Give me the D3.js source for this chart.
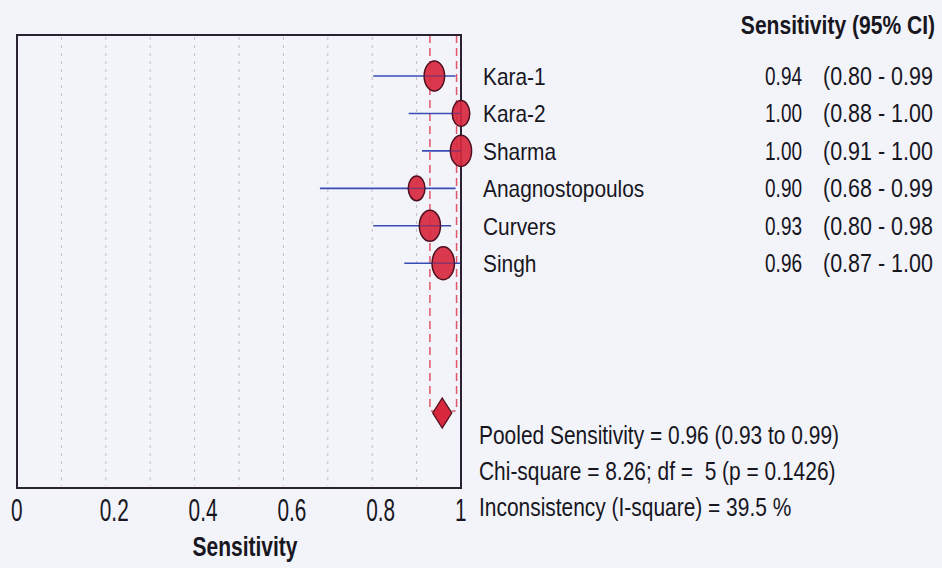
<!DOCTYPE html>
<html>
<head>
<meta charset="utf-8">
<script src="https://cdn.jsdelivr.net/npm/d3@7/dist/d3.min.js"></script>
<style>
  html, body { margin: 0; padding: 0; background: #f2f4fa; }
  svg { display: block; }
  text { font-family: "Liberation Sans", Arial, sans-serif; fill: #18161e; white-space: pre; }
</style>
</head>
<body>
<svg id="chart" width="942" height="568"></svg>
<script>
// ---- data ----
const studies   = ["Kara-1", "Kara-2", "Sharma", "Anagnostopoulos", "Curvers", "Singh"];
const sens      = [0.94, 1.00, 1.00, 0.90, 0.93, 0.96];
const ciLow     = [0.80, 0.88, 0.91, 0.68, 0.80, 0.87];
const ciHigh    = [0.99, 1.00, 1.00, 0.99, 0.98, 1.00];
const weights   = [15, 11, 16, 10, 16, 18];
const pooled    = { est: 0.96, lo: 0.93, hi: 0.99 };
const xTicks    = [0, 0.2, 0.4, 0.6, 0.8, 1];
const gridTicks = [0.1, 0.2, 0.3, 0.4, 0.5, 0.6, 0.7, 0.8, 0.9];
const statLines = [
  "Pooled Sensitivity = 0.96 (0.93 to 0.99)",
  "Chi-square = 8.26; df =  5 (p = 0.1426)",
  "Inconsistency (I-square) = 39.5 %"
];
const header = "Sensitivity (95% CI)";
const xTitle = "Sensitivity";

// ---- layout ----
const svg = d3.select("#chart");
const box = { left: 17, right: 461, top: 35, bottom: 488 };
const x = d3.scaleLinear().domain([0, 1]).range([box.left, box.right]);
const y = d3.scaleLinear().domain([0, 9]).range([76, 413]);
const ry = d3.scaleSqrt().domain([0, 18]).range([0, 16.5]);
const pooledRow = 9;

// gridlines
svg.append("g").selectAll("line").data(gridTicks).join("line")
  .attr("x1", d => x(d)).attr("x2", d => x(d))
  .attr("y1", box.top + 2).attr("y2", box.bottom - 2)
  .attr("stroke", "#c6bccb").attr("stroke-width", 1)
  .attr("stroke-dasharray", "3,5");

// pooled CI dashed bracket
const bracketY = y(pooledRow) - 2;
svg.append("path")
  .attr("d", `M${x(pooled.lo)},${box.top}V${bracketY}h5 M${x(pooled.hi)},${box.top}V${bracketY}h-5`)
  .attr("fill", "none").attr("stroke", "#e0566a").attr("stroke-width", 1.5)
  .attr("stroke-dasharray", "8,5");

// box
svg.append("rect")
  .attr("x", box.left).attr("y", box.top)
  .attr("width", box.right - box.left).attr("height", box.bottom - box.top)
  .attr("fill", "none").attr("stroke", "#2a2232").attr("stroke-width", 2);

// CI lines
const rows = studies.map((s, i) => ({ s, i, v: sens[i], lo: ciLow[i], hi: ciHigh[i], w: weights[i] }));
svg.append("g").selectAll("line").data(rows).join("line")
  .attr("x1", d => x(d.lo) + 1).attr("x2", d => x(d.hi) - 1)
  .attr("y1", d => y(d.i)).attr("y2", d => y(d.i))
  .attr("stroke", "#3b4bb4").attr("stroke-width", 1.6);

// points (ellipses)
const rxr = 0.68;
svg.append("g").selectAll("ellipse").data(rows).join("ellipse")
  .attr("cx", d => x(d.v)).attr("cy", d => y(d.i))
  .attr("rx", d => ry(d.w) * rxr).attr("ry", d => ry(d.w))
  .attr("fill", "#d8283e").attr("stroke", "#4e1020").attr("stroke-width", 1.5)
  .attr("fill-opacity", 0.92);
// CI line visible through the marker
svg.append("g").selectAll("line").data(rows).join("line")
  .attr("x1", d => Math.max(x(d.lo), x(d.v) - ry(d.w) * rxr)).attr("x2", d => Math.min(x(d.hi), x(d.v) + ry(d.w) * rxr))
  .attr("y1", d => y(d.i)).attr("y2", d => y(d.i))
  .attr("stroke", "#4a3c8c").attr("stroke-width", 1.2).attr("opacity", 0.6);

// pooled diamond
const px = x(pooled.est) - 1, py = y(pooledRow);
svg.append("path")
  .attr("d", `M${px},${py - 15}L${px + 9.5},${py}L${px},${py + 15}L${px - 9.5},${py}Z`)
  .attr("fill", "#d8283e").attr("stroke", "#4e1020").attr("stroke-width", 1.3);

// helper for horizontally condensed text
function ctext(g, txt, tx, ty, size, sx, anchor, weight) {
  return g.append("text")
    .attr("transform", `translate(${tx},${ty}) scale(${sx},1)`)
    .attr("text-anchor", anchor || "start")
    .attr("font-size", size)
    .attr("font-weight", weight || "normal")
    .text(txt);
}

// x tick labels
const tg = svg.append("g");
xTicks.forEach(t => ctext(tg, d3.format("~g")(t), x(t) - 6, 521, 32, 0.65, "start"));
// x title
ctext(svg, xTitle, 245, 556, 28, 0.75, "middle", "bold");

// header
ctext(svg, header, 935, 34, 26, 0.81, "end", "bold");

// study labels & values
const lg = svg.append("g");
rows.forEach(d => {
  ctext(lg, d.s, 483, y(d.i) + 9, 24, 0.87, "start");
  ctext(lg, d3.format(".2f")(d.v), 802, y(d.i) + 9, 25, 0.76, "end");
  ctext(lg, `(${d3.format(".2f")(d.lo)} - ${d3.format(".2f")(d.hi)}`, 823, y(d.i) + 9, 25, 0.86, "start");
});

// stats
statLines.forEach((s, k) => ctext(svg, s, 479, 444 + k * 36, 26, 0.805, "start"));
</script>
</body>
</html>
